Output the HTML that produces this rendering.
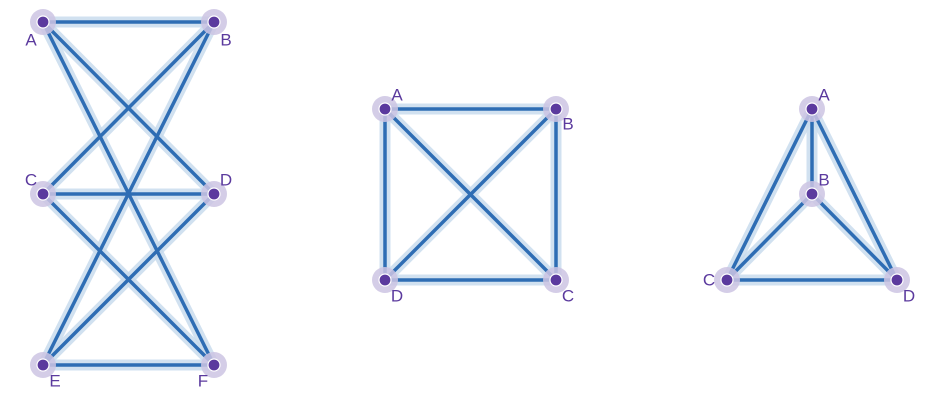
<!DOCTYPE html>
<html><head><meta charset="utf-8"><style>
body{margin:0;background:#fff;}
svg{display:block;font-family:"Liberation Sans",sans-serif;}
</style></head><body>
<svg id="c" width="934" height="406"></svg>
<script>
const graphNames=["graph-six-nodes","graph-square","graph-triangle"];
const nodeIds=[["A","B","C","D","E","F"],["A","B","C","D"],["A","B","C","D"]];
const nodeX=[[43,214,43,214,43,214],[385,556,556,385],[812,812,727,897]];
const nodeY=[[22,22,194,194,365,365],[109,109,280,280],[109,194,280,280]];
const labelX=[[31,226,31,226,55,203],[397,568,568,397],[824,824,709,909]];
const labelY=[[40,40,180,180,381,381],[95,124,296,296],[95,180,280,296]];
const edges=[[["A","B"],["A","D"],["A","F"],["B","C"],["B","E"],["C","D"],["C","F"],["D","E"],["E","F"]],
[["A","B"],["A","C"],["A","D"],["B","C"],["B","D"],["D","C"]],
[["A","B"],["A","C"],["A","D"],["B","C"],["B","D"],["C","D"]]];
const NS="http://www.w3.org/2000/svg";
const svg=document.getElementById('c');
function mk(t,a,p){const e=document.createElementNS(NS,t);for(const k in a)e.setAttribute(k,a[k]);p.appendChild(e);return e;}
graphNames.forEach((gn,gi)=>{
  const g=mk('g',{},svg);
  
  
  const idx=id=>nodeIds[gi].indexOf(id);
  edges[gi].forEach(([a,b])=>{
    const i=idx(a),j=idx(b);
    const h=mk('line',{x1:nodeX[gi][i],y1:nodeY[gi][i],x2:nodeX[gi][j],y2:nodeY[gi][j],stroke:'#c6d9ec','stroke-width':11,'stroke-opacity':0.8},g);
    
    
  });
  edges[gi].forEach(([a,b])=>{
    const i=idx(a),j=idx(b);
    const l=mk('line',{x1:nodeX[gi][i],y1:nodeY[gi][i],x2:nodeX[gi][j],y2:nodeY[gi][j],stroke:'#2e6db4','stroke-width':3.5},g);
    
    
  });
  nodeIds[gi].forEach((id,i)=>{
    const h=mk('circle',{cx:nodeX[gi][i],cy:nodeY[gi][i],r:13,fill:'#cdc4e3','fill-opacity':0.85},g);
    
    
    const c=mk('circle',{cx:nodeX[gi][i],cy:nodeY[gi][i],r:6,fill:'#5b3a9e',stroke:'#fff','stroke-width':1.2},g);
    
    
    const t=mk('text',{x:labelX[gi][i],y:labelY[gi][i],fill:'#5b3a9e','font-size':17,'text-anchor':'middle','dominant-baseline':'central'},g);
    t.textContent=id;
    
    
  });
});
</script>
</body></html>
